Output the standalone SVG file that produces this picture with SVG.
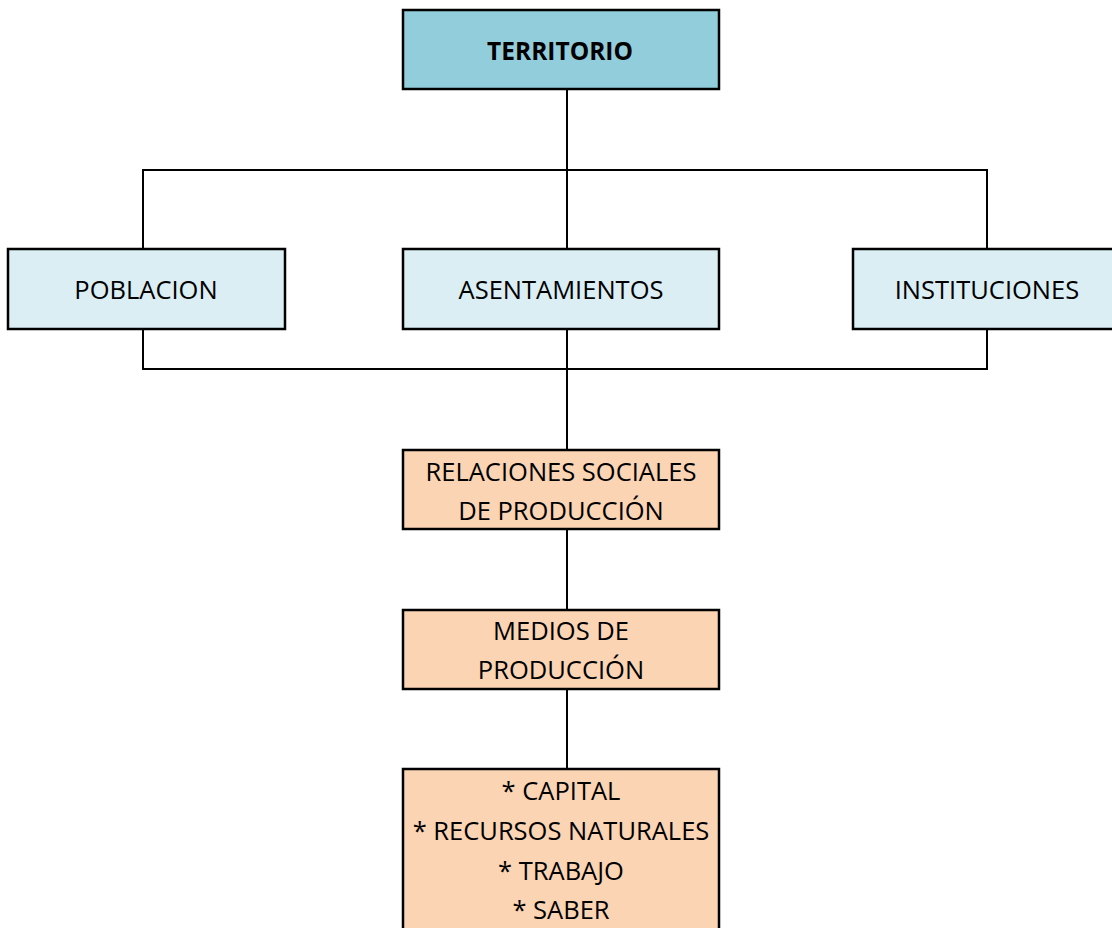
<svg xmlns="http://www.w3.org/2000/svg" width="1112" height="928" viewBox="0 0 1112 928">
<style>
.box{stroke:#000;stroke-width:2.5}
.t1{fill:#92CDDC}
.t2{fill:#DAEEF3}
.t3{fill:#FBD4B4}
text{font-family:"Open Sans","Liberation Sans",sans-serif;font-size:25.5px;fill:#000;text-anchor:middle}
.b{font-weight:bold;font-size:24.5px}
.c{fill:none;stroke:#000;stroke-width:2}
</style>
<rect width="1112" height="928" fill="#fff"/>
<g id="connectors">
<path class="c" d="M567 89V450M143 249V170H987V249M143 329V369H987V329M567 529V610M567 689V769"/>
</g>
<g id="territorio"><rect class="box t1" x="403" y="10" width="316" height="79"/><text class="b" x="560" y="60">TERRITORIO</text></g>
<g id="poblacion"><rect class="box t2" x="8" y="249" width="277" height="80"/><text x="146" y="299">POBLACION</text></g>
<g id="asentamientos"><rect class="box t2" x="403" y="249" width="316" height="80"/><text x="561" y="299">ASENTAMIENTOS</text></g>
<g id="instituciones"><rect class="box t2" x="853" y="249" width="270" height="80"/><text x="987" y="299">INSTITUCIONES</text></g>
<g id="relaciones"><rect class="box t3" x="403" y="450" width="316" height="79"/><text x="561" y="481">RELACIONES SOCIALES</text><text x="561" y="520">DE PRODUCCIÓN</text></g>
<g id="medios"><rect class="box t3" x="403" y="610" width="316" height="79"/><text x="561" y="640">MEDIOS DE</text><text x="561" y="679">PRODUCCIÓN</text></g>
<g id="factores"><rect class="box t3" x="403" y="769" width="316" height="170"/><text x="561" y="800">* CAPITAL</text><text x="561" y="840">* RECURSOS NATURALES</text><text x="561" y="880">* TRABAJO</text><text x="561" y="919">* SABER</text></g>
</svg>
